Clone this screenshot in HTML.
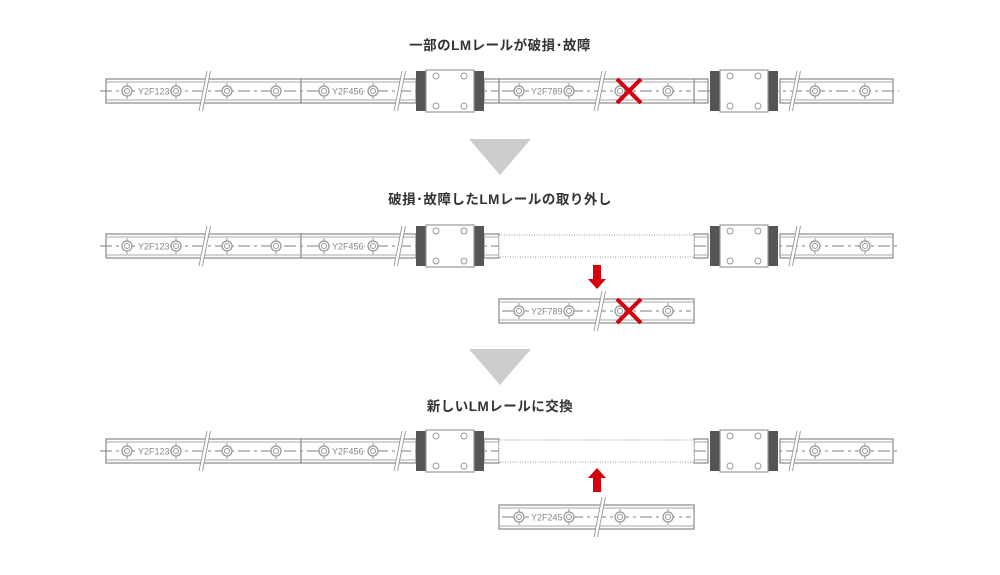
<!DOCTYPE html>
<html><head><meta charset="utf-8"><style>
html,body{margin:0;padding:0;background:#fff;width:1000px;height:575px;overflow:hidden}
text.t{font-family:"Liberation Sans","Noto Sans CJK JP",sans-serif;font-weight:bold;font-size:13.5px;fill:#333;letter-spacing:0.5px}
text.l{font-family:"Liberation Sans",sans-serif;font-size:9px;fill:#888}
</style></head><body>
<svg width="1000" height="575" viewBox="0 0 1000 575" xmlns="http://www.w3.org/2000/svg">
<defs>
<g id="sc"><line x1="0" y1="-8" x2="0" y2="8" stroke="#999" stroke-width="1"/><circle r="5" fill="#fff" stroke="#999" stroke-width="1.3"/><circle r="2.5" fill="none" stroke="#999" stroke-width="1"/></g>
<g id="br"><polygon points="4,-20 7,-20 -1,20 -4,20" fill="#fff"/><line x1="4" y1="-20" x2="-4" y2="20" stroke="#999" stroke-width="0.9"/><line x1="7.5" y1="-20" x2="-0.5" y2="20" stroke="#999" stroke-width="0.9"/></g>
<g id="blk"><rect x="-34" y="-20" width="10" height="40" fill="#555"/><rect x="24" y="-20" width="10" height="40" fill="#555"/><rect x="-24" y="-21" width="48" height="42" fill="#fff" stroke="#999" stroke-width="1.2"/><circle cx="-14" cy="-15" r="3" fill="none" stroke="#999"/><circle cx="14" cy="-15" r="3" fill="none" stroke="#999"/><circle cx="-14" cy="15" r="3" fill="none" stroke="#999"/><circle cx="14" cy="15" r="3" fill="none" stroke="#999"/></g>
<g id="rails">
<rect x="106" y="-12" width="195" height="24" fill="#fff" stroke="#888" stroke-width="1.2"/>
<rect x="301" y="-12" width="115" height="24" fill="#fff" stroke="#888" stroke-width="1.2"/>
<line x1="106" y1="-9" x2="416" y2="-9" stroke="#aaa"/><line x1="106" y1="9" x2="416" y2="9" stroke="#aaa"/>
<rect x="780" y="-12" width="113" height="24" fill="#fff" stroke="#888" stroke-width="1.2"/>
<line x1="780" y1="-9" x2="893" y2="-9" stroke="#aaa"/><line x1="780" y1="9" x2="893" y2="9" stroke="#aaa"/>
<rect x="484" y="-12" width="15" height="24" fill="#fff" stroke="#888" stroke-width="1.2"/>
<line x1="484" y1="-9" x2="499" y2="-9" stroke="#aaa"/><line x1="484" y1="9" x2="499" y2="9" stroke="#aaa"/>
<rect x="694" y="-12" width="14" height="24" fill="#fff" stroke="#888" stroke-width="1.2"/>
<line x1="694" y1="-9" x2="708" y2="-9" stroke="#aaa"/><line x1="694" y1="9" x2="708" y2="9" stroke="#aaa"/>
</g>
<g id="parts">
<use href="#sc" x="127"/><use href="#sc" x="176"/><use href="#sc" x="227"/><use href="#sc" x="276"/><use href="#sc" x="324"/><use href="#sc" x="373"/><use href="#sc" x="815"/><use href="#sc" x="865"/>
<use href="#br" x="203"/><use href="#br" x="398"/><use href="#br" x="793"/>
<use href="#blk" x="450"/><use href="#blk" x="744"/>
<rect x="136" y="-5" width="34" height="10" fill="#fff"/>
<rect x="330" y="-5" width="34" height="10" fill="#fff"/>
</g>
<g id="mr">
<rect x="0" y="-12" width="195" height="24" fill="#fff" stroke="#888" stroke-width="1.2"/>
<line x1="0" y1="-9" x2="195" y2="-9" stroke="#aaa"/><line x1="0" y1="9" x2="195" y2="9" stroke="#aaa"/>
<line x1="3" y1="0" x2="192" y2="0" stroke="#999" stroke-width="1.2" stroke-dasharray="12 4 3 4"/>
<use href="#sc" x="20"/><use href="#sc" x="70"/><use href="#sc" x="121"/><use href="#sc" x="169"/>
<use href="#br" x="99"/>
<rect x="30" y="-5" width="34" height="10" fill="#fff"/>
</g>
<g id="x"><line x1="-12" y1="-12" x2="12" y2="12" stroke="#d7000f" stroke-width="4"/><line x1="12" y1="-12" x2="-12" y2="12" stroke="#d7000f" stroke-width="4"/></g>
<rect id="dot" x="499" y="-11" width="195" height="22" fill="#fff" stroke="#999" stroke-width="1" stroke-dasharray="1 1.5"/>
</defs>

<text class="t" x="500" y="50" text-anchor="middle">一部のLMレールが破損･故障</text>
<text class="t" x="500" y="204" text-anchor="middle">破損･故障したLMレールの取り外し</text>
<text class="t" x="500" y="411" text-anchor="middle">新しいLMレールに交換</text>

<g transform="translate(0,91)">
<use href="#rails"/>
<line x1="100" y1="0" x2="899" y2="0" stroke="#999" stroke-width="1.2" stroke-dasharray="12 4 3 4"/>
<use href="#parts"/>
<use href="#mr" x="499"/>
<text class="l" x="138" y="3.5">Y2F123</text>
<text class="l" x="332" y="3.5">Y2F456</text>
<text class="l" x="531" y="3.5">Y2F789</text>
<use href="#x" x="629"/>
</g>

<polygon points="469,139 531,139 500,175" fill="#ccc"/>

<g transform="translate(0,246)">
<use href="#rails"/>
<line x1="100" y1="0" x2="499" y2="0" stroke="#999" stroke-width="1.2" stroke-dasharray="12 4 3 4"/>
<line x1="694" y1="0" x2="899" y2="0" stroke="#999" stroke-width="1.2" stroke-dasharray="12 4 3 4"/>
<use href="#dot"/>
<use href="#parts"/>
<text class="l" x="138" y="3.5">Y2F123</text>
<text class="l" x="332" y="3.5">Y2F456</text>
</g>
<polygon points="593,265 601,265 601,279 606,279 597,289 588,279 593,279" fill="#d7000f"/>
<g transform="translate(0,311)">
<use href="#mr" x="499"/>
<text class="l" x="531" y="3.5">Y2F789</text>
<use href="#x" x="629"/>
</g>

<polygon points="469,349 531,349 500,385" fill="#ccc"/>

<g transform="translate(0,451)">
<use href="#rails"/>
<line x1="100" y1="0" x2="499" y2="0" stroke="#999" stroke-width="1.2" stroke-dasharray="12 4 3 4"/>
<line x1="694" y1="0" x2="899" y2="0" stroke="#999" stroke-width="1.2" stroke-dasharray="12 4 3 4"/>
<use href="#dot"/>
<use href="#parts"/>
<text class="l" x="138" y="3.5">Y2F123</text>
<text class="l" x="332" y="3.5">Y2F456</text>
</g>
<polygon points="593,492 601,492 601,478 606,478 597,468 588,478 593,478" fill="#d7000f"/>
<g transform="translate(0,517)">
<use href="#mr" x="499"/>
<text class="l" x="531" y="3.5">Y2F245</text>
</g>
</svg>
</body></html>
